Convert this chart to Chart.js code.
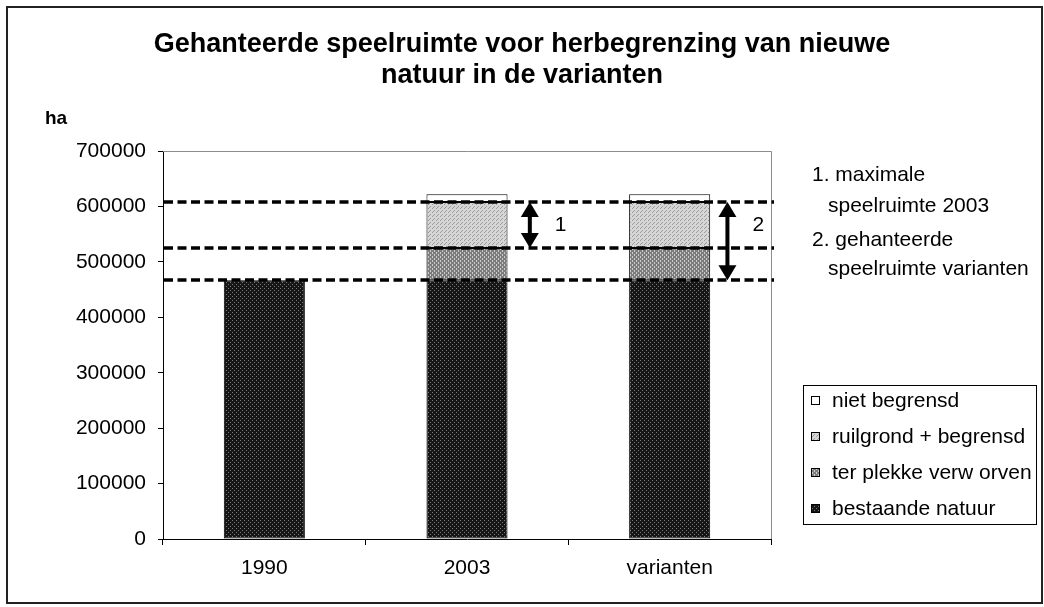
<!DOCTYPE html>
<html>
<head>
<meta charset="utf-8">
<script src="https://cdn.jsdelivr.net/npm/chart.js@4/dist/chart.umd.min.js"></script>
<style>
    html, body { margin: 0; padding: 0; background: #fff; }
    #wrap { width: 1044px; height: 607px; position: relative; }
</style>
</head>
<body>
<div id="wrap"><canvas id="chart-speelruimte" width="1044" height="607"></canvas></div>
<script>
    "use strict";

    // Data
    const categories = ["1990", "2003", "varianten"];
    const bestaandeNatuur = [467000, 467000, 467000];
    const terPlekkeVerworven = [null, 58000, 58000];
    const ruilgrondBegrensd = [null, 83000, 83000];
    const nietBegrensd = [null, 14000, 14000];
    const yTicks = [0, 100000, 200000, 300000, 400000, 500000, 600000, 700000];
    const referenceLines = [608000, 525000, 467000];
    const arrowSpans = [
        { category: 1, from: 608000, to: 525000, label: "1" },
        { category: 2, from: 608000, to: 467000, label: "2" }
    ];
    const titleLines = ["Gehanteerde speelruimte voor herbegrenzing van nieuwe", "natuur in de varianten"];
    const notes = ["1. maximale", "speelruimte 2003", "2. gehanteerde", "speelruimte varianten"];

    const FONT = "'Liberation Sans', Arial, sans-serif";

    // small dotted fills like the old excel patterns
    const makePattern = (base, dot, cells) => {
        const c = document.createElement("canvas");
        c.width = 4;
        c.height = 4;
        const g = c.getContext("2d");
        g.fillStyle = base;
        g.fillRect(0, 0, 4, 4);
        g.fillStyle = dot;
        cells.forEach(([x, y]) => g.fillRect(x, y, 1, 1));
        return g.createPattern(c, "repeat");
    };

    const fillBestaande = makePattern("#161616", "#7a7a7a", [[0, 0], [2, 2]]);
    const fillTerPlekke = makePattern("#7c7c7c", "#cccccc", [[0, 0], [0, 1], [2, 2], [2, 3]]);
    const fillRuilgrond = makePattern("#d6d6d6", "#9a9a9a", [[0, 0], [2, 2], [1, 3]]);

    const datasets = [
        { label: "bestaande natuur", data: bestaandeNatuur, backgroundColor: fillBestaande },
        { label: "ter plekke verw orven", data: terPlekkeVerworven, backgroundColor: fillTerPlekke },
        { label: "ruilgrond + begrensd", data: ruilgrondBegrensd, backgroundColor: fillRuilgrond },
        { label: "niet begrensd", data: nietBegrensd, backgroundColor: "#ffffff" }
    ].map(d => Object.assign(d, {
        borderColor: "#000",
        borderWidth: 1,
        borderSkipped: false,
        categoryPercentage: 1,
        barPercentage: 0.4
    }));

    // plot frame, dashed lines, arrows, legend, texts
    const decorations = {
        id: "decorations",
        beforeDatasetsDraw(chart) {
            const { ctx, chartArea: a } = chart;
            ctx.save();
            ctx.strokeStyle = "#8c8c8c";
            ctx.lineWidth = 1;
            ctx.beginPath();
            ctx.moveTo(a.left, a.top + 0.5);
            ctx.lineTo(a.right + 0.5, a.top + 0.5);
            ctx.lineTo(a.right + 0.5, a.bottom);
            ctx.stroke();
            ctx.restore();
        },
        afterDraw(chart) {
            const { ctx, chartArea: a, scales: { x, y } } = chart;
            ctx.save();

            // outer frame
            ctx.strokeStyle = "#222";
            ctx.lineWidth = 2;
            ctx.strokeRect(7, 7, 1035, 596);

            // dashed reference lines
            ctx.strokeStyle = "#000";
            ctx.lineWidth = 3.5;
            ctx.setLineDash([9, 4.5]);
            referenceLines.forEach(v => {
                const py = Math.round(y.getPixelForValue(v));
                ctx.beginPath();
                ctx.moveTo(a.left + 1, py);
                ctx.lineTo(a.right + 3, py);
                ctx.stroke();
            });
            ctx.setLineDash([]);

            // double arrows
            const catW = x.getPixelForValue(1) - x.getPixelForValue(0);
            arrowSpans.forEach((s, i) => {
                const px = x.getPixelForValue(s.category) + catW * (i === 0 ? 0.31 : 0.285);
                const top = y.getPixelForValue(s.from);
                const bot = y.getPixelForValue(s.to);
                const hw = 9, hh = 15;
                ctx.fillStyle = "#000";
                ctx.fillRect(px - 2, top + hh - 1, 4, bot - top - 2 * hh + 2);
                ctx.beginPath();
                ctx.moveTo(px, top);
                ctx.lineTo(px + hw, top + hh);
                ctx.lineTo(px - hw, top + hh);
                ctx.closePath();
                ctx.fill();
                ctx.beginPath();
                ctx.moveTo(px, bot);
                ctx.lineTo(px + hw, bot - hh);
                ctx.lineTo(px - hw, bot - hh);
                ctx.closePath();
                ctx.fill();
                ctx.font = "21px " + FONT;
                ctx.textAlign = "left";
                ctx.textBaseline = "middle";
                ctx.fillText(s.label, px + 25, y.getPixelForValue(566000));
            });

            // title
            ctx.fillStyle = "#000";
            ctx.textAlign = "center";
            ctx.textBaseline = "middle";
            ctx.font = "bold 27px " + FONT;
            ctx.fillText(titleLines[0], 522, 45);
            ctx.fillText(titleLines[1], 522, 76);

            // axis unit
            ctx.textAlign = "left";
            ctx.font = "bold 19px " + FONT;
            ctx.fillText("ha", 45, 119);

            // notes on the right
            ctx.font = "21px " + FONT;
            ctx.fillText(notes[0], 812, 175);
            ctx.fillText(notes[1], 828, 206);
            ctx.fillText(notes[2], 812, 240);
            ctx.fillText(notes[3], 828, 269);

            // legend
            ctx.strokeStyle = "#000";
            ctx.lineWidth = 1;
            ctx.strokeRect(803.5, 385.5, 233, 139);
            const items = chart.data.datasets.slice().reverse();
            items.forEach((d, i) => {
                const cy = 400 + i * 36;
                ctx.fillStyle = d.backgroundColor;
                ctx.fillRect(811, cy - 4, 9, 9);
                ctx.strokeRect(811.5, cy - 3.5, 8, 8);
                ctx.fillStyle = "#000";
                ctx.fillText(d.label, 832, cy + 1);
            });

            ctx.restore();
        }
    };

    const ctx = document.getElementById("chart-speelruimte").getContext("2d");
    new Chart(ctx, {
        type: "bar",
        data: { labels: categories, datasets: datasets },
        options: {
            responsive: false,
            animation: false,
            layout: { padding: { left: 0, right: 273, top: 151, bottom: 0 } },
            plugins: {
                legend: { display: false },
                title: { display: false },
                tooltip: { enabled: false }
            },
            scales: {
                x: {
                    stacked: true,
                    offset: true,
                    grid: { offset: true, drawOnChartArea: false, drawTicks: true, tickLength: 6, color: "#000" },
                    border: { display: true, color: "#000", width: 1 },
                    ticks: { color: "#000", padding: 11, font: { family: FONT, size: 21 } },
                    afterFit: s => { s.height = 68; }
                },
                y: {
                    stacked: true,
                    min: 0,
                    max: yTicks[yTicks.length - 1],
                    afterBuildTicks: s => { s.ticks = yTicks.map(v => ({ value: v })); },
                    grid: { drawOnChartArea: false, drawTicks: true, tickLength: 5, color: "#000" },
                    border: { display: true, color: "#000", width: 1 },
                    ticks: {
                        color: "#000",
                        padding: 12,
                        font: { family: FONT, size: 21 },
                        callback: v => String(v)
                    },
                    afterFit: s => { s.width = 163; }
                }
            }
        },
        plugins: [decorations]
    });
</script>
</body>
</html>
